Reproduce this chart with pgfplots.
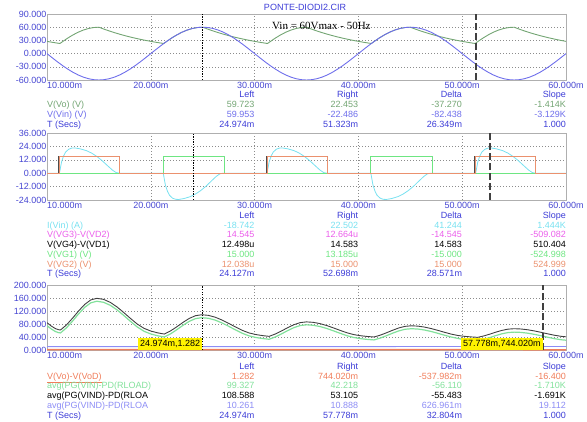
\documentclass[border=0pt]{standalone}
\usepackage{pgfplots}
\pgfplotsset{compat=1.18}
\usepackage{fontspec}
\setmainfont{Liberation Sans}
\newfontfamily\timesfont{Liberation Serif}

\definecolor{tickblue}{RGB}{70,70,210}
\definecolor{hdrblue}{RGB}{60,60,215}
\definecolor{gridc}{RGB}{140,140,140}
\definecolor{framec}{RGB}{175,175,175}
\definecolor{p1green}{RGB}{115,165,115}
\definecolor{p1blue}{RGB}{110,110,235}
\definecolor{cyanc}{RGB}{120,225,240}
\definecolor{magc}{RGB}{235,95,235}
\definecolor{greenc}{RGB}{110,230,130}
\definecolor{orangec}{RGB}{235,145,110}
\definecolor{p3orange}{RGB}{240,125,90}
\definecolor{p3green}{RGB}{130,225,155}
\definecolor{p3blue}{RGB}{140,140,245}

\newcommand{\tf}{\fontsize{9}{10}\selectfont}

\pgfplotsset{
  simaxis/.style={
    scale only axis, width=519pt, anchor=south west,
    xmin=10, xmax=60,
    xtick={20,30,40,50,60},
    xticklabels={20.000m,30.000m,40.000m,50.000m,60.000m},
    major tick length=0pt,
    grid=major,
    major grid style={draw=gridc, line width=0.5pt, dash pattern=on 1.2pt off 1.8pt},
    axis line style={draw=framec, line width=0.8pt},
    tick label style={font=\tf, text=tickblue},
    xticklabel style={anchor=north, inner sep=0pt, yshift=-2.5pt},
    yticklabel style={anchor=east, inner sep=0pt, xshift=-0.5pt},
    no markers,
    every axis plot/.append style={line width=0.9pt, line join=round},
  },
  leftcur/.style={black, line width=1.3pt, dash pattern=on 1.3pt off 1.3pt},
  rightcur/.style={black!75, line width=1.5pt, dash pattern=on 7pt off 3pt},
}

% one row of a cursor table: y (from top), colour, name, left, right, delta, slope
\newcommand{\trow}[7]{%
  \node[anchor=base west,inner sep=0pt,font=\tf,text=#2] at (47pt,{(417.8-#1)*1pt}) {#3};
  \node[anchor=base east,inner sep=0pt,font=\tf,text=#2] at (254.6pt,{(417.8-#1)*1pt}) {#4};
  \node[anchor=base east,inner sep=0pt,font=\tf,text=#2] at (358.4pt,{(417.8-#1)*1pt}) {#5};
  \node[anchor=base east,inner sep=0pt,font=\tf,text=#2] at (462.2pt,{(417.8-#1)*1pt}) {#6};
  \node[anchor=base east,inner sep=0pt,font=\tf,text=#2] at (566pt,{(417.8-#1)*1pt}) {#7};
}
% first time label, set flush left under the frame
\newcommand{\firstlabel}[1]{%
  \node[font=\tf,text=tickblue,anchor=north west,inner sep=0pt] at (47pt,{(#1-2.5)*1pt}) {10.000m};
}

\begin{document}
\begin{tikzpicture}
\path[use as bounding box] (0pt,0pt) rectangle (587pt,421pt);

% ---------------- panel 1: input and output voltage ----------------
\begin{axis}[simaxis, at={(47pt,341pt)}, height=66pt,
  ymin=-60, ymax=90, ytick={-60,-30,0,30,60,90},
  yticklabels={-60.000,-30.000,0.000,30.000,60.000,90.000}]
\addplot[p1green] coordinates {
(10,27.80)(10.5,25.74)(11,23.84)(11.25,22.95)(11.5,27.24)(12,35.27)(12.5,42.43)(13,48.54)(13.5,53.46)(14,57.06)(14.5,59.26)(15,60)(15.5,55.56)(16,51.45)(16.5,47.64)(17,44.11)(17.5,40.84)(18,37.82)(18.5,35.02)(19,32.42)(19.5,30.02)
(20,27.80)(20.5,25.74)(21,23.84)(21.25,22.95)(21.5,27.24)(22,35.27)(22.5,42.43)(23,48.54)(23.5,53.46)(24,57.06)(24.5,59.26)(25,60)(25.5,55.56)(26,51.45)(26.5,47.64)(27,44.11)(27.5,40.84)(28,37.82)(28.5,35.02)(29,32.42)(29.5,30.02)
(30,27.80)(30.5,25.74)(31,23.84)(31.25,22.95)(31.5,27.24)(32,35.27)(32.5,42.43)(33,48.54)(33.5,53.46)(34,57.06)(34.5,59.26)(35,60)(35.5,55.56)(36,51.45)(36.5,47.64)(37,44.11)(37.5,40.84)(38,37.82)(38.5,35.02)(39,32.42)(39.5,30.02)
(40,27.80)(40.5,25.74)(41,23.84)(41.25,22.95)(41.5,27.24)(42,35.27)(42.5,42.43)(43,48.54)(43.5,53.46)(44,57.06)(44.5,59.26)(45,60)(45.5,55.56)(46,51.45)(46.5,47.64)(47,44.11)(47.5,40.84)(48,37.82)(48.5,35.02)(49,32.42)(49.5,30.02)
(50,27.80)(50.5,25.74)(51,23.84)(51.25,22.95)(51.5,27.24)(52,35.27)(52.5,42.43)(53,48.54)(53.5,53.46)(54,57.06)(54.5,59.26)(55,60)(55.5,55.56)(56,51.45)(56.5,47.64)(57,44.11)(57.5,40.84)(58,37.82)(58.5,35.02)(59,32.42)(59.5,30.02)(60,27.80)};
\addplot[p1blue] coordinates {
(10,0)(10.5,-9.39)(11,-18.54)(11.5,-27.24)(12,-35.27)(12.5,-42.43)(13,-48.54)(13.5,-53.46)(14,-57.06)(14.5,-59.26)(15,-60)(15.5,-59.26)(16,-57.06)(16.5,-53.46)(17,-48.54)(17.5,-42.43)(18,-35.27)(18.5,-27.24)(19,-18.54)(19.5,-9.39)
(20,0)(20.5,9.39)(21,18.54)(21.5,27.24)(22,35.27)(22.5,42.43)(23,48.54)(23.5,53.46)(24,57.06)(24.5,59.26)(25,60)(25.5,59.26)(26,57.06)(26.5,53.46)(27,48.54)(27.5,42.43)(28,35.27)(28.5,27.24)(29,18.54)(29.5,9.39)
(30,0)(30.5,-9.39)(31,-18.54)(31.5,-27.24)(32,-35.27)(32.5,-42.43)(33,-48.54)(33.5,-53.46)(34,-57.06)(34.5,-59.26)(35,-60)(35.5,-59.26)(36,-57.06)(36.5,-53.46)(37,-48.54)(37.5,-42.43)(38,-35.27)(38.5,-27.24)(39,-18.54)(39.5,-9.39)
(40,0)(40.5,9.39)(41,18.54)(41.5,27.24)(42,35.27)(42.5,42.43)(43,48.54)(43.5,53.46)(44,57.06)(44.5,59.26)(45,60)(45.5,59.26)(46,57.06)(46.5,53.46)(47,48.54)(47.5,42.43)(48,35.27)(48.5,27.24)(49,18.54)(49.5,9.39)
(50,0)(50.5,-9.39)(51,-18.54)(51.5,-27.24)(52,-35.27)(52.5,-42.43)(53,-48.54)(53.5,-53.46)(54,-57.06)(54.5,-59.26)(55,-60)(55.5,-59.26)(56,-57.06)(56.5,-53.46)(57,-48.54)(57.5,-42.43)(58,-35.27)(58.5,-27.24)(59,-18.54)(59.5,-9.39)(60,0)};
\addplot[leftcur] coordinates {(24.974,-60)(24.974,90)};
\addplot[rightcur] coordinates {(51.323,-60)(51.323,90)};
\end{axis}
\firstlabel{341}

\node[font=\tf,text=hdrblue,anchor=base] at (305pt,410.5pt) {PONTE-DIODI2.CIR};
\node[font=\timesfont\fontsize{11}{12}\selectfont,anchor=base west,inner sep=0pt] at (272pt,391pt) {Vin = 60Vmax - 50Hz};

\trow{94}{hdrblue}{}{Left}{Right}{Delta}{Slope}
\trow{104}{p1green}{V(Vo) (V)}{59.723}{22.453}{-37.270}{-1.414K}
\trow{114}{p1blue}{V(Vin) (V)}{59.953}{-22.486}{-82.438}{-3.129K}
\trow{124}{hdrblue}{T (Secs)}{24.974m}{51.323m}{26.349m}{1.000}

% ---------------- panel 2: gate drive and input current ----------------
\begin{axis}[simaxis, at={(47pt,221pt)}, height=67pt,
  ymin=-24, ymax=36, ytick={-24,-12,0,12,24,36},
  yticklabels={-24.000,-12.000,0.000,12.000,24.000,36.000}]
\addplot[cyanc, line width=0.8pt] coordinates {
(10,0)(11.2,0)(11.4,10)(11.6,15.5)(11.8,19)(12.1,21.5)(12.4,22.5)(12.7,22.6)(13.2,21.8)(13.8,20.2)(14.3,18.0)(14.8,15.0)(15.3,11.3)(15.8,7.0)(16.3,2.8)(16.65,0.6)(16.95,0)
(21.2,0)(21.4,-10.4)(21.6,-16.1)(21.8,-19.8)(22.1,-22.4)(22.4,-23.4)(22.7,-23.5)(23.2,-22.7)(23.8,-21.0)(24.3,-18.7)(24.8,-15.6)(25.3,-11.8)(25.8,-7.3)(26.3,-2.9)(26.65,-0.6)(26.95,0)
(31.2,0)(31.4,10)(31.6,15.5)(31.8,19)(32.1,21.5)(32.4,22.5)(32.7,22.6)(33.2,21.8)(33.8,20.2)(34.3,18.0)(34.8,15.0)(35.3,11.3)(35.8,7.0)(36.3,2.8)(36.65,0.6)(36.95,0)
(41.2,0)(41.4,-10.4)(41.6,-16.1)(41.8,-19.8)(42.1,-22.4)(42.4,-23.4)(42.7,-23.5)(43.2,-22.7)(43.8,-21.0)(44.3,-18.7)(44.8,-15.6)(45.3,-11.8)(45.8,-7.3)(46.3,-2.9)(46.65,-0.6)(46.95,0)
(51.3,0)(51.5,10)(51.7,15.5)(51.9,19)(52.2,21.5)(52.5,22.5)(52.8,22.6)(53.3,21.8)(53.9,20.2)(54.4,18.0)(54.9,15.0)(55.4,11.3)(55.9,7.0)(56.4,2.8)(56.75,0.6)(57.05,0)(60,0)};
\addplot[magc] coordinates {(10,0)(21.2,0)(21.2,14.9)(27.05,14.9)(27.05,0)(41.2,0)(41.2,14.9)(47.1,14.9)(47.1,0)(60,0)};
\addplot[black!70] coordinates {(10,0)(11.1,0)(11.1,14.9)(16.95,14.9)(16.95,0)(31.1,0)(31.1,14.9)(37.05,14.9)(37.05,0)(51.2,0)(51.2,14.9)(57.1,14.9)(57.1,0)(60,0)};
\addplot[greenc] coordinates {(10,0)(21.2,0)(21.2,15)(27.05,15)(27.05,0)(41.2,0)(41.2,15)(47.1,15)(47.1,0)(60,0)};
\addplot[orangec] coordinates {(10,0)(11.2,0)(11.2,15)(16.95,15)(16.95,0)(31.2,0)(31.2,15)(37.05,15)(37.05,0)(51.3,0)(51.3,15)(57.1,15)(57.1,0)(60,0)};
\addplot[leftcur] coordinates {(24.127,-24)(24.127,36)};
\addplot[rightcur] coordinates {(52.698,-24)(52.698,36)};
\end{axis}
\firstlabel{221}

\trow{215}{hdrblue}{}{Left}{Right}{Delta}{Slope}
\trow{225}{cyanc}{I(Vin) (A)}{-18.742}{22.502}{41.244}{1.444K}
\trow{234.5}{magc}{V(VG3)-V(VD2)}{14.545}{12.664u}{-14.545}{-509.082}
\trow{244.5}{black}{V(VG4)-V(VD1)}{12.498u}{14.583}{14.583}{510.404}
\trow{254.5}{greenc}{V(VG1) (V)}{15.000}{13.185u}{-15.000}{-524.998}
\trow{264}{orangec}{V(VG2) (V)}{12.038u}{15.000}{15.000}{524.999}
\trow{273.5}{hdrblue}{T (Secs)}{24.127m}{52.698m}{28.571m}{1.000}

% ---------------- panel 3: running average power ----------------
\begin{axis}[simaxis, at={(47pt,71pt)}, height=65pt,
  ymin=0, ymax=200, ytick={0,40,80,120,160,200},
  yticklabels={0.000,40.000,80.000,120.000,160.000,200.000}]
\addplot[p3orange, line width=1.5pt] coordinates {(10,1.4)(25,1.28)(57.8,0.74)(60,0.7)};
\addplot[p3blue] coordinates {(10,10.2)(25,10.26)(57.8,10.89)(60,10.9)};
\addplot[p3green, line width=1.2pt] coordinates {
(10,75)(10.4,65)(10.8,57)(11.1,53.5)(11.3,52.5)
(11.883,68.4)(12.467,89.1)(13.05,111.4)(13.633,131.3)(14.217,145.1)(14.8,150)
(15.45,146.8)(16.1,137.5)(16.75,123.4)(17.4,106.1)(18.05,87.9)(18.7,70.7)(19.35,57.6)(20.0,49.35)(20.65,43.85)(21.3,40)
(21.9,49.7)(22.5,62.3)(23.1,75.9)(23.7,88.1)(24.3,96.5)(24.9,99.5)
(25.55,97.6)(26.2,91.95)(26.85,83.4)(27.5,73.0)(28.15,61.95)(28.8,51.6)(29.45,43.64)(30.1,38.65)(30.75,35.33)(31.4,33)
(32.0,40.25)(32.6,49.7)(33.2,59.9)(33.8,69.0)(34.4,75.3)(35.0,77.5)
(35.65,76.1)(36.3,72.2)(36.95,66.25)(37.6,58.96)(38.25,51.24)(38.9,44.0)(39.55,38.44)(40.2,34.95)(40.85,32.63)(41.5,31)
(42.1,36.6)(42.7,43.9)(43.3,51.8)(43.9,58.9)(44.5,63.8)(45.1,65.5)
(45.74,64.46)(46.38,61.47)(47.02,56.9)(47.66,51.35)(48.3,45.45)(48.94,39.92)(49.58,35.68)(50.22,31.5)(50.86,29.7)(51.5,28.5)
(52.083,32.8)(52.667,38.4)(53.25,44.5)(53.833,49.9)(54.417,53.7)(55.0,55.0)
(55.65,54.18)(56.3,51.82)(56.95,48.2)(57.6,43.84)(58.25,39.19)(58.9,34.82)(59.55,31.48)(60,30.1)};
\addplot[black!75] coordinates {
(10,84)(10.4,74)(10.8,66)(11.1,62.5)(11.3,61.5)
(11.883,77.4)(12.467,98.1)(13.05,120.4)(13.633,140.3)(14.217,154.1)(14.8,159)
(15.45,155.8)(16.1,146.5)(16.75,132.4)(17.4,115.1)(18.05,96.9)(18.7,79.7)(19.35,66.6)(20.0,58.35)(20.65,52.85)(21.3,49)
(21.9,58.7)(22.5,71.3)(23.1,84.9)(23.7,97.1)(24.3,105.5)(24.9,108.5)
(25.55,106.6)(26.2,100.95)(26.85,92.4)(27.5,82.0)(28.15,70.95)(28.8,60.6)(29.45,52.64)(30.1,47.65)(30.75,44.33)(31.4,42)
(32.0,49.25)(32.6,58.7)(33.2,68.9)(33.8,78.0)(34.4,84.3)(35.0,86.5)
(35.65,85.1)(36.3,81.2)(36.95,75.25)(37.6,67.96)(38.25,60.24)(38.9,53.0)(39.55,47.44)(40.2,43.95)(40.85,41.63)(41.5,40)
(42.1,45.6)(42.7,52.9)(43.3,60.8)(43.9,67.9)(44.5,72.8)(45.1,74.5)
(45.74,73.46)(46.38,70.47)(47.02,65.9)(47.66,60.35)(48.3,54.45)(48.94,48.92)(49.58,44.68)(50.22,42.02)(50.86,40.24)(51.5,39)
(52.083,43.3)(52.667,48.9)(53.25,55.0)(53.833,60.4)(54.417,64.2)(55.0,65.5)
(55.65,64.68)(56.3,62.32)(56.95,58.7)(57.6,54.34)(58.25,49.69)(58.9,45.32)(59.55,41.98)(60,40.6)};
\addplot[leftcur] coordinates {(24.974,0)(24.974,200)};
\addplot[rightcur] coordinates {(57.778,0)(57.778,200)};
\node[fill=yellow,text=black,font=\tf,inner sep=2pt,anchor=south east] at (axis cs:24.974,0) {24.974m,1.282};
\node[fill=yellow,text=black,font=\tf,inner sep=2pt,anchor=south east] at (axis cs:57.778,0) {57.778m,744.020m};
\end{axis}
\firstlabel{71}

\trow{366}{hdrblue}{}{Left}{Right}{Delta}{Slope}
\trow{376}{p3orange}{\underline{V(Vo)-V(VoD)}}{1.282}{744.020m}{-537.982m}{-16.400}
\trow{385.5}{p3green}{avg(PG(VIN)-PD(RLOAD)}{99.327}{42.218}{-56.110}{-1.710K}
\trow{395.5}{black}{avg(PG(VIND)-PD(RLOA}{108.588}{53.105}{-55.483}{-1.691K}
\trow{405}{p3blue}{avg(PG(VIND)-PD(RLOA}{10.261}{10.888}{626.961m}{19.112}
\trow{415}{hdrblue}{T (Secs)}{24.974m}{57.778m}{32.804m}{1.000}
\end{tikzpicture}
\end{document}
